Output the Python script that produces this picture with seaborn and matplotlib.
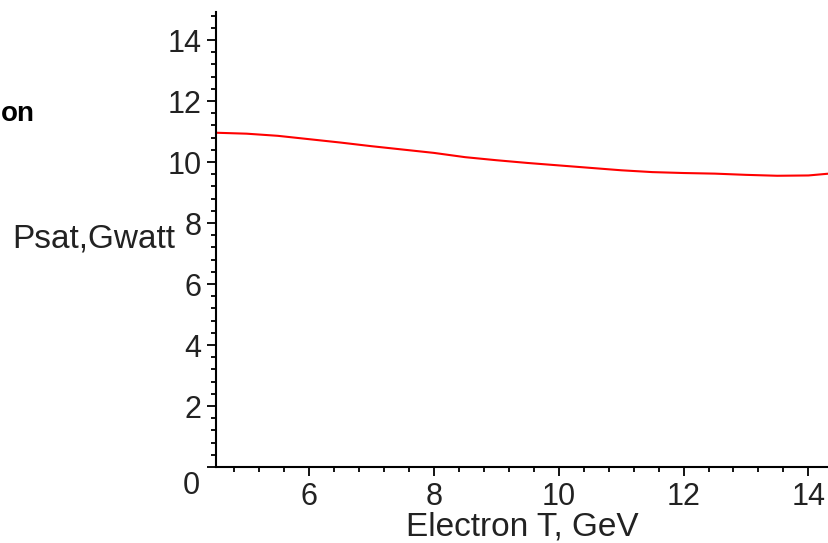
import matplotlib
matplotlib.use("Agg")
import matplotlib.pyplot as plt
from matplotlib.ticker import MultipleLocator
import seaborn as sns
import pandas as pd

# values
electron_t = [4.52, 5.0, 5.5, 6.0, 6.5, 7.0, 7.5, 8.0, 8.5, 9.0, 9.5,
              10.0, 10.5, 11.0, 11.5, 12.0, 12.5, 13.0, 13.5, 14.0, 14.33]
psat = [10.96, 10.93, 10.86, 10.75, 10.64, 10.52, 10.41, 10.30, 10.16, 10.06, 9.97,
        9.89, 9.81, 9.73, 9.67, 9.64, 9.62, 9.58, 9.55, 9.56, 9.62]
x_ticks = [6, 8, 10, 12, 14]
y_ticks = [0, 2, 4, 6, 8, 10, 12, 14]
y_tick_labels = ["", "2", "4", "6", "8", "10", "12", "14"]

df = pd.DataFrame({"t": electron_t, "p": psat})

sns.set_style("white")
plt.rcParams["font.family"] = ["Liberation Sans", "DejaVu Sans"]

fig = plt.figure(figsize=(8.29, 5.43), dpi=100)
ax = fig.add_axes([216 / 829, 1 - 467 / 543, 1 - 216 / 829, (467 - 12) / 543])

sns.lineplot(data=df, x="t", y="p", color="#ff0000", linewidth=1.5, ax=ax)

ax.set_xlim(4.51, 14.33)
ax.set_ylim(0, 14.92)
ax.set_xticks(x_ticks)
ax.set_yticks(y_ticks)
ax.set_yticklabels(y_tick_labels)
ax.xaxis.set_minor_locator(MultipleLocator(0.4))
ax.yaxis.set_minor_locator(MultipleLocator(0.4))

for s in ["top", "right"]:
    ax.spines[s].set_visible(False)
for s in ["left", "bottom"]:
    ax.spines[s].set_color("black")
    ax.spines[s].set_linewidth(1.5)

ax.tick_params(which="major", direction="out", length=6.5, width=1.3,
               color="black", labelsize=22, labelcolor="#222222", pad=4,
               left=True, bottom=True)
ax.tick_params(which="minor", direction="out", length=3.5, width=1.3,
               color="black", left=True, bottom=True)

# corner zero label, sits below the origin like in the original
ax.annotate("0", xy=(0, 0), xycoords="axes fraction", xytext=(-16, -19),
            textcoords="offset pixels", ha="right", va="center",
            fontsize=22, color="#222222")

ax.set_xlabel("Electron T, GeV", fontsize=24, color="#222222", va="baseline")
ax.xaxis.set_label_coords(0.5, (467 - 535) / 455)
ax.set_ylabel("Psat,Gwatt", fontsize=24, color="#222222", rotation=0,
              ha="right", va="center")
ax.yaxis.set_label_coords((175 - 216) / 613, 0.5)

fig.text(0.5 / 829, 1 - 121 / 543, "on", ha="left", va="baseline",
         fontsize=20, fontweight="bold", color="black")

fig.savefig("out.png", dpi=100)
